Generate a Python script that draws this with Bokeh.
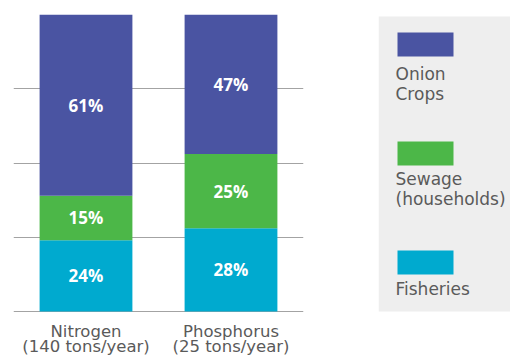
from bokeh.plotting import figure
from bokeh.layouts import row
from bokeh.models import ColumnDataSource, FactorRange, Range1d
from bokeh.core.properties import value
from bokeh.embed import file_html
from bokeh.resources import INLINE

# Nutrient load shares by source (percent of annual total)
nutrients = ["Nitrogen\n(140 tons/year)", "Phosphorus\n(25 tons/year)"]
fisheries = [24, 28]
sewage = [15, 25]
onion_crops = [61, 47]

sources = ["fisheries", "sewage", "onion_crops"]
legend_labels = ["Onion\nCrops", "Sewage\n(households)", "Fisheries"]
colors = ["#00aacf", "#4cb748", "#4a54a2"]   # fisheries, sewage, onion crops

BOLD_FONT = "Open Sans"
FONT = "DejaVu Sans"
TEXT_GREY = "#5a5a5a"

H = 356          # page height in px
TOP = 14         # space above the bars
BASE_PX = 311    # pixel row of the 0% line
PX_PER_PCT = (BASE_PX - TOP) / 100.0

data = dict(nutrient=nutrients, fisheries=fisheries, sewage=sewage, onion_crops=onion_crops)
src = ColumnDataSource(data)

# the frame runs to the page bottom so the category captions can sit under the 0% line
p = figure(
    x_range=FactorRange(*nutrients, range_padding=0),
    y_range=Range1d(-(H - BASE_PX) / PX_PER_PCT, 100),
    width=378, height=H,
    min_border_left=13, min_border_right=75, min_border_top=TOP, min_border_bottom=0,
    output_backend="svg", toolbar_location=None,
    outline_line_color=None, background_fill_color="white", border_fill_color="white",
)

p.vbar_stack(sources, x="nutrient", width=0.64, color=colors, line_color=None, source=src)

# percentage labels centred in each stacked segment
lab_x, lab_y, lab_t = [], [], []
for i, n in enumerate(nutrients):
    base = 0
    for series in (fisheries, sewage, onion_crops):
        v = series[i]
        lab_x.append(n)
        lab_y.append(base + v / 2)
        lab_t.append(f"{v}%")
        base += v
p.text(x=lab_x, y=lab_y, text=lab_t, text_color="white", text_font=value(BOLD_FONT),
       text_font_style="bold", text_font_size="17px", text_align="center",
       text_baseline="middle")

# category captions, two lines each
cap_x, cap_y, cap_t = [], [], []
for n in nutrients:
    for k, line in enumerate(n.split("\n")):
        cap_x.append(n)
        cap_y.append(-(19.5 + 15.5 * k) / PX_PER_PCT)
        cap_t.append(line)
p.text(x=cap_x, y=cap_y, text=cap_t, text_color=TEXT_GREY, text_font=value(FONT),
       text_font_size="16.5px", text_align="center", text_baseline="alphabetic")

# grid only; axes hidden
p.axis.visible = False
p.xgrid.grid_line_color = None
p.ygrid.ticker = [0, 25, 50, 75, 100]
p.ygrid.grid_line_color = "#a3a3a3"
p.ygrid.grid_line_width = 1

# side legend panel, its y range given in page pixels
leg = figure(
    x_range=Range1d(0, 132), y_range=Range1d(H, TOP),
    width=132, height=H, min_border_left=0, min_border_right=0,
    min_border_top=TOP, min_border_bottom=0,
    output_backend="svg", toolbar_location=None,
    outline_line_color=None, background_fill_color="white", border_fill_color="white",
)
leg.axis.visible = False
leg.grid.visible = False
leg.quad(left=0, right=132, top=16, bottom=311, color="#eeeeee", line_color=None)

swatch_top = [32, 141, 250]
first_baseline = [73, 178, 288]
swatch_colors = list(reversed(colors))
leg.quad(left=19, right=75, top=swatch_top, bottom=[t + 24 for t in swatch_top],
         color=swatch_colors, line_color=None)

tx, ty, tt = [], [], []
for label, base in zip(legend_labels, first_baseline):
    for k, line in enumerate(label.split("\n")):
        tx.append(17)
        ty.append(base + 20 * k)
        tt.append(line)
leg.text(x=tx, y=ty, text=tt, text_color=TEXT_GREY, text_font=value(FONT),
         text_font_size="17px", text_baseline="alphabetic")

layout = row(p, leg)
open("out.html", "w").write(file_html(layout, INLINE))
